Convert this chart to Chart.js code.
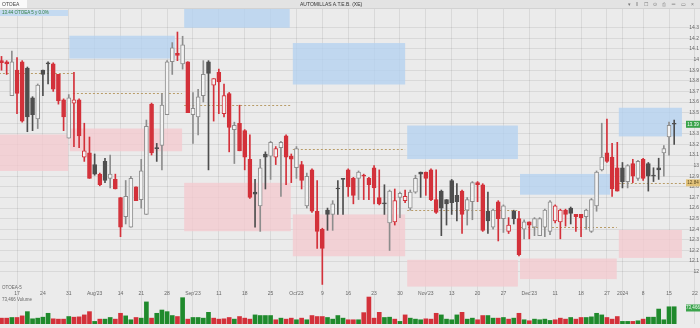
<!DOCTYPE html>
<html>
<head>
<meta charset="utf-8">
<script src="https://cdn.jsdelivr.net/npm/chart.js@4.4.1/dist/chart.umd.min.js"></script>
<style>
html,body{margin:0;padding:0;background:#ebebeb;}
#wrap{position:relative;width:700px;height:328px;overflow:hidden;font-family:"Liberation Sans",Arial,sans-serif;background:#ebebeb;}
#grafico{position:absolute;left:0;top:0;}
.barra{position:absolute;left:0;top:0;width:700px;height:8px;background:#e3e3e3;border-bottom:1px solid #d2d2d2;}
.tab{position:absolute;left:0;top:0;width:25px;height:8px;background:#fafafa;font-size:5px;line-height:8px;padding-left:2px;color:#444;}
.titulo{position:absolute;left:300px;top:0;font-size:5px;line-height:8px;color:#333;}
.iconos{position:absolute;right:4px;top:0;font-size:5px;line-height:8px;color:#777;letter-spacing:2px;}
.leyenda{position:absolute;left:0;top:10px;width:66px;height:6px;background:#c4daf1;font-size:4.5px;line-height:6px;color:#2f7d3f;padding-left:2px;}
.etq{position:absolute;left:2px;font-size:4.5px;color:#666;}
</style>
</head>
<body>
<div id="wrap">
  <canvas id="grafico" width="700" height="328"></canvas>
  <div class="barra"></div>
  <div class="tab">OTOEA</div>
  <div class="titulo">AUTOMILLAS A.T.E.B. (XE)</div>
  <div class="iconos">▾ ‖ ☐ ⊙ ⎙ ═ ▭ ×</div>
  <div class="leyenda">13.44 OTOEA 5 y 0.0%</div>
  <div class="etq" style="top:285px">OTOEA-5</div>
  <div class="etq" style="top:297px">73,466 Volume</div>
</div>
<script>
// datos diarios (indice 0 = 12 jul 2023)
const apertura = [13.99,13.98,13.66,13.90,13.98,13.92,13.64,13.44,13.90,13.96,
13.96,13.86,13.62,13.26,13.59,13.62,13.08,13.12,13.01,12.92,
13.04,12.88,12.87,12.70,12.52,12.42,12.80,12.68,12.54,13.58,
13.17,13.19,13.48,13.98,14.06,13.96,13.98,13.48,13.46,13.66,
13.98,13.76,13.88,13.49,13.68,13.34,13.40,13.33,13.06,12.75,
12.62,13.11,13.09,13.08,13.17,13.28,13.09,12.98,13.01,12.62,
12.96,12.57,12.40,12.58,12.54,12.78,12.87,12.96,12.88,12.88,
12.91,12.88,12.98,12.70,12.65,12.46,12.47,12.70,12.67,12.60,
12.75,12.94,12.94,12.96,12.68,12.76,12.68,12.86,12.72,12.76,
12.58,12.66,12.84,12.82,12.57,12.42,12.66,12.50,12.38,12.57,
12.50,12.40,12.47,12.42,12.34,12.42,12.38,12.48,12.47,12.58,
12.60,12.54,12.54,12.52,12.38,12.62,12.96,13.12,13.08,12.98,
12.98,12.85,13.02,12.88,13.06,13.02,12.91,12.98,13.12,13.27,13.40];
const maximo = [14.03,13.99,14.08,14.02,13.99,13.93,13.65,13.77,13.90,13.98,
13.97,13.86,13.63,13.67,13.88,13.63,13.40,13.27,13.11,12.93,
13.07,13.10,12.92,12.70,12.86,12.90,12.80,13.06,13.43,13.59,
13.21,13.68,13.99,14.16,14.26,14.22,13.98,13.69,13.72,13.99,
13.99,13.82,13.91,13.77,13.69,13.41,13.57,13.34,13.29,12.87,
13.06,13.13,13.23,13.18,13.23,13.29,13.11,13.18,13.04,12.93,
12.97,12.86,12.41,12.60,12.67,12.86,12.88,12.97,12.89,12.95,
12.92,12.89,13.00,12.96,12.82,12.77,12.78,12.75,12.77,12.77,
12.91,12.94,12.94,12.97,12.96,12.77,12.68,12.87,12.83,12.77,
12.70,12.85,12.85,12.83,12.75,12.59,12.67,12.63,12.51,12.58,
12.57,12.49,12.47,12.51,12.51,12.59,12.67,12.63,12.59,12.59,
12.61,12.54,12.54,12.59,12.69,12.95,13.40,13.44,13.21,13.22,
13.03,13.01,13.06,13.05,13.07,13.03,12.98,13.07,13.19,13.41,13.43];
const minimo = [13.90,13.86,13.66,13.49,13.41,13.32,13.33,13.35,13.66,13.77,
13.70,13.58,13.33,13.26,13.18,13.17,13.04,12.88,12.91,12.81,
12.84,12.79,12.78,12.33,12.45,12.42,12.67,12.60,12.54,13.10,
13.04,12.96,13.48,13.86,13.99,13.91,13.50,13.21,13.29,13.60,
12.96,13.42,13.49,13.46,13.13,13.02,13.14,12.96,12.69,12.42,
12.38,12.78,12.87,13.01,12.71,12.82,12.84,12.88,12.78,12.60,
12.56,12.22,11.88,12.39,12.39,12.54,12.54,12.71,12.64,12.68,
12.68,12.68,12.64,12.63,12.54,12.20,12.44,12.51,12.65,12.58,
12.74,12.70,12.72,12.67,12.55,12.34,12.44,12.54,12.48,12.36,
12.44,12.49,12.66,12.38,12.36,12.40,12.29,12.37,12.36,12.45,
12.15,12.31,12.31,12.34,12.34,12.33,12.35,12.46,12.31,12.43,
12.45,12.38,12.33,12.40,12.37,12.57,12.95,13.03,12.71,12.76,
12.79,12.79,12.84,12.86,12.86,12.76,12.85,12.87,12.90,13.10,13.20];
const cierre = [13.97,13.96,13.98,13.68,13.42,13.46,13.48,13.76,13.86,13.96,
13.72,13.61,13.46,13.64,13.62,13.28,13.14,12.88,12.92,12.82,
12.86,12.92,12.78,12.42,12.71,12.88,12.67,12.95,13.37,13.12,
13.16,13.57,13.98,14.11,14.04,14.14,13.50,13.54,13.65,13.86,
13.87,13.82,13.79,13.66,13.36,13.38,13.14,13.08,12.70,12.73,
12.98,13.08,13.22,13.16,13.22,13.08,13.06,13.16,12.86,12.90,
12.57,12.38,12.22,12.54,12.64,12.78,12.87,12.80,12.72,12.94,
12.90,12.82,12.79,12.64,12.64,12.76,12.67,12.74,12.71,12.75,
12.88,12.92,12.88,12.68,12.56,12.60,12.64,12.65,12.66,12.54,
12.68,12.84,12.82,12.39,12.48,12.58,12.50,12.62,12.44,12.50,
12.16,12.47,12.44,12.50,12.50,12.58,12.66,12.62,12.58,12.54,
12.55,12.52,12.51,12.58,12.68,12.94,13.08,13.04,12.78,12.76,
12.85,13.00,12.90,13.04,12.88,12.90,12.90,12.96,13.16,13.38,13.39];
const volumen = [24900,24900,27700,27700,34600,52600,22100,24900,29000,45600,
22100,20700,20700,31800,29000,30400,38700,52600,11100,20700,
20700,27700,20700,45600,34600,18000,27700,24900,94000,24900,
45600,59500,52600,36000,31800,112000,20700,27700,27700,24900,
49800,24900,20700,22100,27700,20700,31800,24900,20700,38700,
36000,36000,36000,18000,24900,20700,24900,18000,24900,18000,
36000,31800,31800,27700,20700,36000,24900,18000,18000,18000,
48400,114800,24900,49800,27700,29000,20700,11100,38700,24900,
20700,18000,22100,20700,45600,38700,20700,18000,38700,49800,
20700,24900,18000,36000,36000,24900,24900,27700,20700,24900,
45600,18000,13800,20700,18000,20700,15200,18000,24900,20700,
27700,20700,27700,27700,30400,45600,38700,27700,20700,31800,
11100,11100,11100,13800,20700,29000,29000,63600,18000,73300,73466];

// etiquetas semanales del eje x (indice de la barra y texto)
const semanaIdx = [3,8,13,18,23,27,32,37,42,47,52,57,62,67,72,77,82,87,92,97,102,107,112,117,120,124,129,134];
const semanaTxt = ['17','24','31',"Aug'23",'14','21','28',"Sep'23",'11','18','25',"Oct'23",'9','16','23','30',"Nov'23",'13','20','27',"Dec'23",'11','18','27','2024','8','15','22'];
const precios = [12,12.1,12.2,12.3,12.4,12.5,12.6,12.7,12.8,12.9,13,13.1,13.2,13.3,13.4,13.5,13.6,13.7,13.8,13.9,14,14.1,14.2,14.3];

// zonas mensuales [desde, hasta, bajo, alto]
const zonasAzules = [[13.1,33.5,14.01,14.225],[35.3,55.7,14.30,14.50],[56.3,78.0,13.765,14.156],
  [78.4,99.8,13.062,13.378],[100.2,117.6,12.726,12.922],[119.3,131.5,13.276,13.546]];
const zonasRosas = [[-0.5,12.9,12.95,13.294],[13.2,34.9,13.136,13.35],[35.3,55.9,12.382,12.838],
  [56.3,78.0,12.146,12.54],[78.4,99.8,11.86,12.112],[100.2,118.9,11.93,12.124],[119.3,131.5,12.13,12.394]];
// lineas medias punteadas [desde, hasta, precio]
const lineasMedias = [[-0.5,13.8,13.869],[13.8,34.9,13.685],[35.3,55.9,13.569],[56.3,78.0,13.158],
  [78.4,99.8,12.58],[100.2,118.9,12.426],[119.3,134.6,12.838]];

const ROJO = '#d3313a', OSCURO = '#4e4e4e', GRIS = '#8d8d8d', VERDE = '#1f8a2c';

function tipoVela(i){
    const prev = i > 0 ? cierre[i-1] : apertura[i];
    if (cierre[i] < prev) return cierre[i] > apertura[i] ? 'rojoHueco' : 'rojo';
    return cierre[i] > apertura[i] ? 'hueco' : 'oscuro';
}

const bordes = [], rellenos = [], colVol = [];
for (let i = 0; i < cierre.length; i++){
    const t = tipoVela(i);
    let b = t == 'rojo' || t == 'rojoHueco' ? ROJO : (t == 'oscuro' ? OSCURO : GRIS);
    bordes.push(b);
    rellenos.push(t == 'hueco' || t == 'rojoHueco' ? '#f3f3f3' : b);
    const prev = i > 0 ? cierre[i-1] : apertura[i];
    colVol.push(cierre[i] >= prev ? VERDE : ROJO);
}

const zonas = {
    id: 'zonas',
    beforeDatasetsDraw(chart){
        const {ctx, chartArea, scales: {x, y}} = chart;
        ctx.save();
        ctx.beginPath();
        ctx.rect(chartArea.left, chartArea.top, chartArea.width, chartArea.height);
        ctx.clip();
        ctx.fillStyle = 'rgba(178,208,240,0.75)';
        zonasAzules.forEach(z => {
            const x1 = x.getPixelForValue(z[0]), x2 = x.getPixelForValue(z[1]);
            const y1 = y.getPixelForValue(z[3]), y2 = y.getPixelForValue(z[2]);
            ctx.fillRect(x1, y1, x2 - x1, y2 - y1);
        });
        ctx.fillStyle = 'rgba(244,200,205,0.75)';
        zonasRosas.forEach(z => {
            const x1 = x.getPixelForValue(z[0]), x2 = x.getPixelForValue(z[1]);
            const y1 = y.getPixelForValue(z[3]), y2 = y.getPixelForValue(z[2]);
            ctx.fillRect(x1, y1, x2 - x1, y2 - y1);
        });
        ctx.strokeStyle = '#b89c68';
        ctx.lineWidth = 1;
        ctx.setLineDash([2, 2]);
        lineasMedias.forEach(l => {
            const yy = Math.round(y.getPixelForValue(l[2])) + 0.5;
            ctx.beginPath();
            ctx.moveTo(x.getPixelForValue(l[0]), yy);
            ctx.lineTo(x.getPixelForValue(l[1]), yy);
            ctx.stroke();
        });
        ctx.restore();
    },
    afterDraw(chart){
        const {ctx, scales: {y}} = chart;
        const etiqueta = (precio, txt, fondo, color, yy) => {
            const py = yy !== undefined ? yy : y.getPixelForValue(precio);
            ctx.fillStyle = fondo;
            ctx.fillRect(686, py - 3.5, 14, 7);
            ctx.fillStyle = color;
            ctx.font = '4.5px "Liberation Sans"';
            ctx.textAlign = 'center';
            ctx.textBaseline = 'middle';
            ctx.fillText(txt, 693, py);
        };
        const ult = cierre[cierre.length - 1];
        etiqueta(ult, ult.toFixed(2), '#3aa34b', '#fff');
        const media = lineasMedias[lineasMedias.length - 1][2];
        etiqueta(media, media.toFixed(2), '#e2c27a', '#5a4a20');
        etiqueta(0, volumen[volumen.length - 1].toLocaleString('en-US'), '#3aa34b', '#fff', 308);
    }
};

const ctx = document.getElementById('grafico').getContext('2d');
const myChart = new Chart(ctx, {
    type: 'bar',
    data: {
        datasets: [{
            label: 'cuerpo',
            data: apertura.map((o, i) => ({x: i, y: [o, cierre[i]]})),
            backgroundColor: rellenos,
            borderColor: bordes,
            borderWidth: 1,
            borderSkipped: false,
            barThickness: 4,
            minBarLength: 1,
            grouped: false,
            order: 0,
            yAxisID: 'y'
        }, {
            label: 'mecha',
            data: minimo.map((l, i) => ({x: i, y: [l, maximo[i]]})),
            backgroundColor: bordes,
            barThickness: 1,
            grouped: false,
            order: 1,
            yAxisID: 'y'
        }, {
            label: 'volumen',
            data: volumen.map((v, i) => ({x: i, y: v})),
            backgroundColor: colVol,
            barThickness: 4,
            grouped: false,
            order: 2,
            yAxisID: 'yv'
        }]
    },
    options: {
        responsive: false,
        animation: false,
        layout: {padding: {top: 9, left: 0, right: 0, bottom: 0}},
        plugins: {legend: {display: false}, tooltip: {enabled: false}},
        scales: {
            x: {
                type: 'linear',
                min: -0.29,
                max: 134.6,
                offset: false,
                position: {y: 11.84},
                afterBuildTicks: (axis) => { axis.ticks = semanaIdx.map(v => ({value: v})); },
                ticks: {
                    autoSkip: false,
                    maxRotation: 0,
                    padding: 2,
                    color: '#666',
                    font: {size: 5, family: 'Liberation Sans'},
                    callback: (v) => semanaTxt[semanaIdx.indexOf(v)]
                },
                grid: {color: 'rgba(0,0,0,0.075)', drawTicks: false, offset: false},
                border: {display: false}
            },
            y: {
                type: 'linear',
                position: 'right',
                min: 11.507,
                max: 14.477,
                afterBuildTicks: (axis) => { axis.ticks = precios.map(v => ({value: v})); },
                ticks: {
                    mirror: true,
                    padding: 1,
                    color: '#666',
                    font: {size: 5, family: 'Liberation Sans'},
                    callback: (v) => String(+v.toFixed(1))
                },
                grid: {color: 'rgba(0,0,0,0.075)', drawTicks: false},
                border: {display: false}
            },
            yv: {
                type: 'linear',
                display: false,
                min: 0,
                max: 1341000
            }
        }
    },
    plugins: [zonas]
});
</script>
</body>
</html>
